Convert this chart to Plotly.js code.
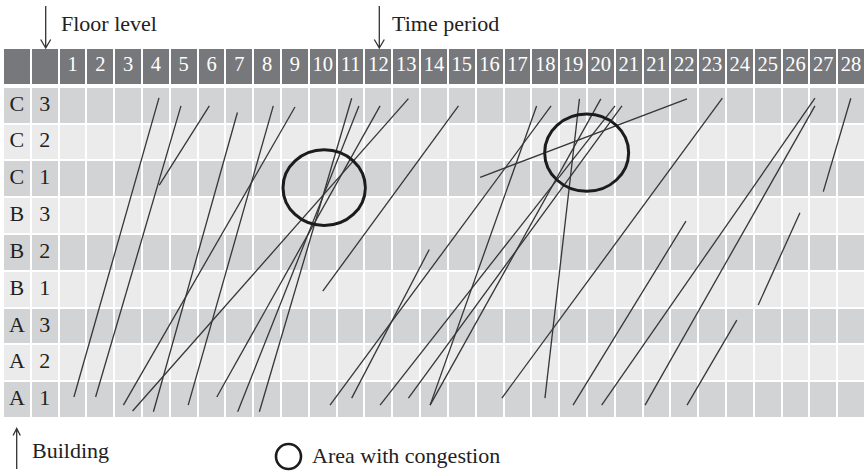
<!DOCTYPE html>
<html>
<head>
<meta charset="utf-8">
<script src="https://cdn.plot.ly/plotly-3.0.1.min.js"></script>
<style>
  html, body { margin: 0; padding: 0; background: #ffffff; overflow: hidden; }
  #chart { width: 865px; height: 472px; }
</style>
</head>
<body>
<div id="chart"></div>
<script>
// ---------------- DATA ----------------
// Time period column labels (note the repeated "21" in the source)
const timeLabels = ['1','2','3','4','5','6','7','8','9','10','11','12','13','14','15','16','17','18','19','20','21','21','22','23','24','25','26','27','28'];
// Row labels, bottom (A1) to top (C3)
const buildingLabels = ['A','A','A','B','B','B','C','C','C'];
const floorLabels    = ['1','2','3','1','2','3','1','2','3'];

// Movement lines, in grid units: time position (column k spans k-1..k) and floor position (A1 spans 0..1 ... C3 spans 8..9)
const lineStartT = [0.55, 1.33, 2.33, 2.66, 3.41, 4.66, 5.69, 6.44, 7.22, 9.76, 10.54, 11.56, 12.58, 13.36, 13.36, 15.94, 17.49, 18.50, 19.53, 21.09, 22.60, 3.62, 9.50, 15.16, 25.16, 27.50];
const lineStartF = [0.57, 0.57, 0.35, 0.19, 0.17, 0.35, 0.57, 0.17, 0.17, 0.35, 0.54, 0.35, 0.54, 0.35, 0.35, 0.54, 0.54, 0.35, 0.35, 0.35, 0.35, 6.33, 3.45, 6.54, 3.07, 6.15];
const lineEndT   = [3.61, 4.40, 8.50, 12.58, 6.43, 7.72, 11.56, 10.80, 10.54, 17.71, 13.33, 20.01, 20.26, 19.50, 17.19, 23.87, 18.73, 22.56, 27.20, 27.20, 24.39, 5.42, 14.38, 22.60, 26.66, 28.49];
const lineEndF   = [8.70, 8.48, 8.45, 8.68, 8.30, 8.48, 8.48, 8.48, 8.69, 8.48, 4.58, 8.48, 8.48, 8.67, 8.48, 8.69, 8.67, 5.35, 8.69, 8.48, 2.66, 8.48, 8.48, 8.67, 5.58, 8.69];

// Congestion areas (centre and radii in grid units)
const congT  = [9.55, 18.99];
const congF  = [6.26, 7.21];
const congRT = [1.48, 1.51];
const congRF = [1.03, 1.05];

// ---------------- BUILD ----------------
const nRows = buildingLabels.length;
const nCols = timeLabels.length + 2;           // two label columns + time columns
const headerBottom = nRows + 0.06;
const headerTop = nRows + 1.054;

// cell grid (heatmap with white gaps)
const xEdges = [];
for (let i = -2; i <= timeLabels.length; i++) xEdges.push(i);
const yEdges = [];
for (let r = 0; r <= nRows; r++) yEdges.push(r);
yEdges.push(headerBottom, headerTop);

const z = [];
for (let r = 0; r < nRows; r++) {
  const row = [];
  for (let c = 0; c < nCols; c++) row.push(r % 2 === 0 ? 0 : 1);
  z.push(row);
}
z.push(new Array(nCols).fill(null));
z.push(new Array(nCols).fill(2));

const grid = {
  type: 'heatmap',
  x: xEdges, y: yEdges, z: z,
  zmin: 0, zmax: 2,
  colorscale: [[0, '#d2d3d5'], [0.5, '#ebebec'], [1, '#77787b']],
  showscale: false, xgap: 2, ygap: 2,
  hoverinfo: 'skip'
};

// lines
const lx = [], ly = [];
for (let i = 0; i < lineStartT.length; i++) {
  lx.push(lineStartT[i], lineEndT[i], null);
  ly.push(lineStartF[i], lineEndF[i], null);
}
const lines = {
  type: 'scatter', mode: 'lines', x: lx, y: ly,
  line: { color: '#363636', width: 1.3 },
  hoverinfo: 'skip', connectgaps: false
};

const serif = 'Liberation Serif, Times New Roman, serif';

const headerText = {
  type: 'scatter', mode: 'text',
  x: timeLabels.map((_, i) => i + 0.5),
  y: timeLabels.map(() => (headerBottom + headerTop) / 2),
  text: timeLabels,
  textposition: 'middle center',
  textfont: { family: serif, size: 20.5, color: '#ffffff' },
  hoverinfo: 'skip'
};
const buildingText = {
  type: 'scatter', mode: 'text',
  x: buildingLabels.map(() => -1.5),
  y: buildingLabels.map((_, i) => i + 0.5),
  text: buildingLabels,
  textposition: 'middle center',
  textfont: { family: serif, size: 22, color: '#222222' },
  hoverinfo: 'skip'
};
const floorText = {
  type: 'scatter', mode: 'text',
  x: floorLabels.map(() => -0.5),
  y: floorLabels.map((_, i) => i + 0.5),
  text: floorLabels,
  textposition: 'middle center',
  textfont: { family: serif, size: 22, color: '#222222' },
  hoverinfo: 'skip'
};

// pixel -> paper helpers for decorations outside the grid
const L = 3, T = 48, W = 862, H = 370;
const px = v => (v - L) / W;
const py = v => (T + H - v) / H;
function arrowPath(x, yTail, yTip, armW, armH) {
  const dir = yTip > yTail ? -1 : 1; // arms go back toward tail
  return 'M' + px(x) + ',' + py(yTail) + ' L' + px(x) + ',' + py(yTip) +
         ' M' + px(x - armW) + ',' + py(yTip + dir * armH) + ' L' + px(x) + ',' + py(yTip) +
         ' L' + px(x + armW) + ',' + py(yTip + dir * armH);
}

const shapes = [];
for (let i = 0; i < congT.length; i++) {
  shapes.push({
    type: 'circle', xref: 'x', yref: 'y',
    x0: congT[i] - congRT[i], x1: congT[i] + congRT[i],
    y0: congF[i] - congRF[i], y1: congF[i] + congRF[i],
    line: { color: '#1c1c1c', width: 3 }, fillcolor: 'rgba(0,0,0,0)'
  });
}
// legend circle
shapes.push({
  type: 'circle', xref: 'paper', yref: 'paper',
  x0: px(276), x1: px(301), y0: py(469), y1: py(444),
  line: { color: '#1c1c1c', width: 2.6 }, fillcolor: 'rgba(0,0,0,0)'
});
// arrows
const arrowStyle = { color: '#333333', width: 1.3 };
shapes.push({ type: 'path', xref: 'paper', yref: 'paper', path: arrowPath(45.7, 6, 48, 5, 8.5), line: arrowStyle });
shapes.push({ type: 'path', xref: 'paper', yref: 'paper', path: arrowPath(379.3, 6, 48, 5, 8.5), line: arrowStyle });
shapes.push({ type: 'path', xref: 'paper', yref: 'paper', path: arrowPath(16.7, 469, 428.5, 3.6, 7), line: arrowStyle });

const annFont = { family: serif, size: 22, color: '#222222' };
const annotations = [
  { text: 'Floor level', xref: 'paper', yref: 'paper', x: px(59), y: py(23.5), xanchor: 'left', yanchor: 'middle', showarrow: false, font: annFont },
  { text: 'Time period', xref: 'paper', yref: 'paper', x: px(390), y: py(23.5), xanchor: 'left', yanchor: 'middle', showarrow: false, font: annFont },
  { text: 'Building', xref: 'paper', yref: 'paper', x: px(30), y: py(450), xanchor: 'left', yanchor: 'middle', showarrow: false, font: annFont },
  { text: 'Area with congestion', xref: 'paper', yref: 'paper', x: px(310), y: py(455), xanchor: 'left', yanchor: 'middle', showarrow: false, font: annFont }
];

const layout = {
  width: 865, height: 472,
  margin: { l: L, r: 0, t: T, b: 472 - T - H, pad: 0 },
  paper_bgcolor: '#ffffff', plot_bgcolor: '#ffffff',
  showlegend: false,
  xaxis: { range: [-2, timeLabels.length], visible: false, fixedrange: true },
  yaxis: { range: [0, headerTop], visible: false, fixedrange: true },
  shapes: shapes,
  annotations: annotations
};

Plotly.newPlot('chart', [grid, lines, headerText, buildingText, floorText], layout, { displayModeBar: false, staticPlot: true });
</script>
</body>
</html>
